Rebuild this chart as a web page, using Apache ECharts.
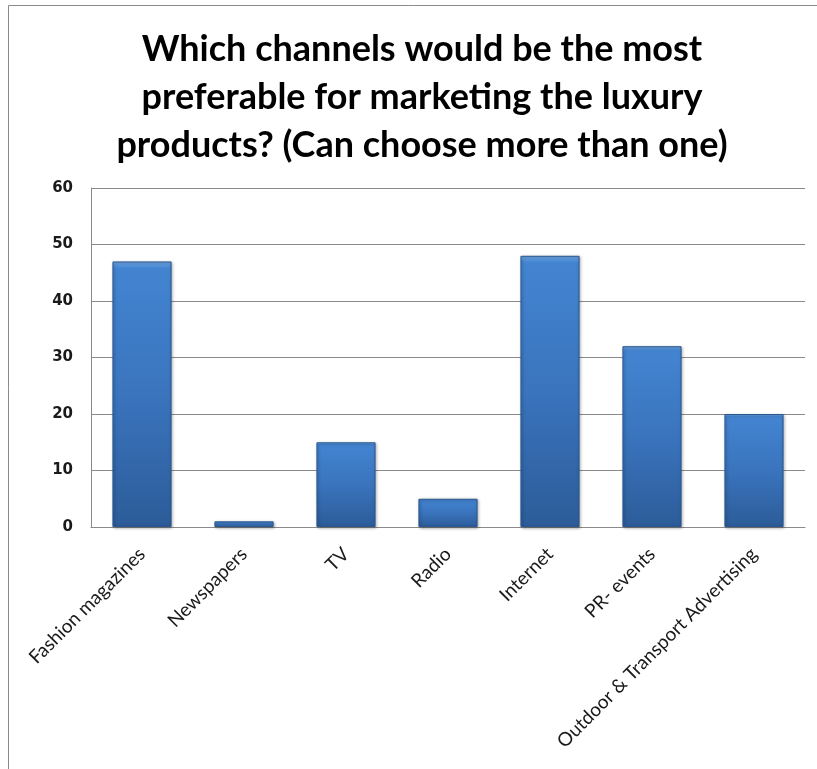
<!DOCTYPE html>
<html>
<head>
<meta charset="utf-8">
<script src="https://cdn.jsdelivr.net/npm/echarts@6/dist/echarts.min.js"></script>
<style>
  html, body { margin: 0; padding: 0; background: #fff; }
  #chart { width: 817px; height: 769px; }
</style>
</head>
<body>
<div id="chart"></div>
<script>
// Survey: preferred marketing channels for luxury products
const channels = [
  'Fashion magazines',
  'Newspapers',
  'TV',
  'Radio',
  'Internet',
  'PR- events',
  'Outdoor & Transport Advertising'
];
const responses = [47, 1, 15, 5, 48, 32, 20];
const yTicks = { min: 0, max: 60, interval: 10 };
const chartTitle = 'Which channels would be the most\npreferable for marketing the luxury\nproducts? (Can choose more than one)';

const chart = echarts.init(document.getElementById('chart'), null, { renderer: 'canvas' });

const barFill = new echarts.graphic.LinearGradient(0, 0, 0, 1, [
  { offset: 0, color: '#72aaea' },
  { offset: 0.025, color: '#4384d1' },
  { offset: 0.5, color: '#3a74bd' },
  { offset: 1, color: '#2c5c99' }
]);

chart.setOption({
  animation: false,
  backgroundColor: '#ffffff',
  graphic: [{
    type: 'rect',
    shape: { x: 8.5, y: 5.5, width: 900, height: 900 },
    style: { fill: 'none', stroke: '#8a8a8a', lineWidth: 1 },
    silent: true,
    z: -1
  }],
  title: {
    text: chartTitle,
    left: 417,
    top: 20,
    textAlign: 'center',
    textStyle: {
      fontFamily: 'Lato',
      fontWeight: 'bold',
      fontSize: 36,
      lineHeight: 48,
      color: '#000000'
    }
  },
  grid: { left: 91, right: 12, top: 188, bottom: 242, containLabel: false },
  xAxis: {
    type: 'category',
    data: channels,
    axisLine: { show: true, lineStyle: { color: '#8a8a8a', width: 1 } },
    axisTick: { show: false },
    axisLabel: {
      rotate: 45,
      margin: 24,
      interval: 0,
      fontFamily: 'Lato',
      fontSize: 19,
      color: '#1a1a1a'
    }
  },
  yAxis: {
    type: 'value',
    min: yTicks.min,
    max: yTicks.max,
    interval: yTicks.interval,
    axisLine: { show: true, lineStyle: { color: '#8a8a8a', width: 1 } },
    axisTick: { show: false },
    splitLine: { show: true, lineStyle: { color: '#8a8a8a', width: 1 } },
    axisLabel: {
      margin: 18,
      fontFamily: 'DejaVu Sans',
      fontWeight: 'bold',
      fontSize: 15,
      color: '#1a1a1a'
    }
  },
  series: [{
    type: 'bar',
    data: responses,
    barWidth: '58%',
    itemStyle: {
      color: barFill,
      borderColor: '#2b5891',
      borderWidth: 1,
      shadowColor: 'rgba(0,0,0,0.35)',
      shadowBlur: 3,
      shadowOffsetX: 1,
      shadowOffsetY: 1
    }
  }]
});
</script>
</body>
</html>
